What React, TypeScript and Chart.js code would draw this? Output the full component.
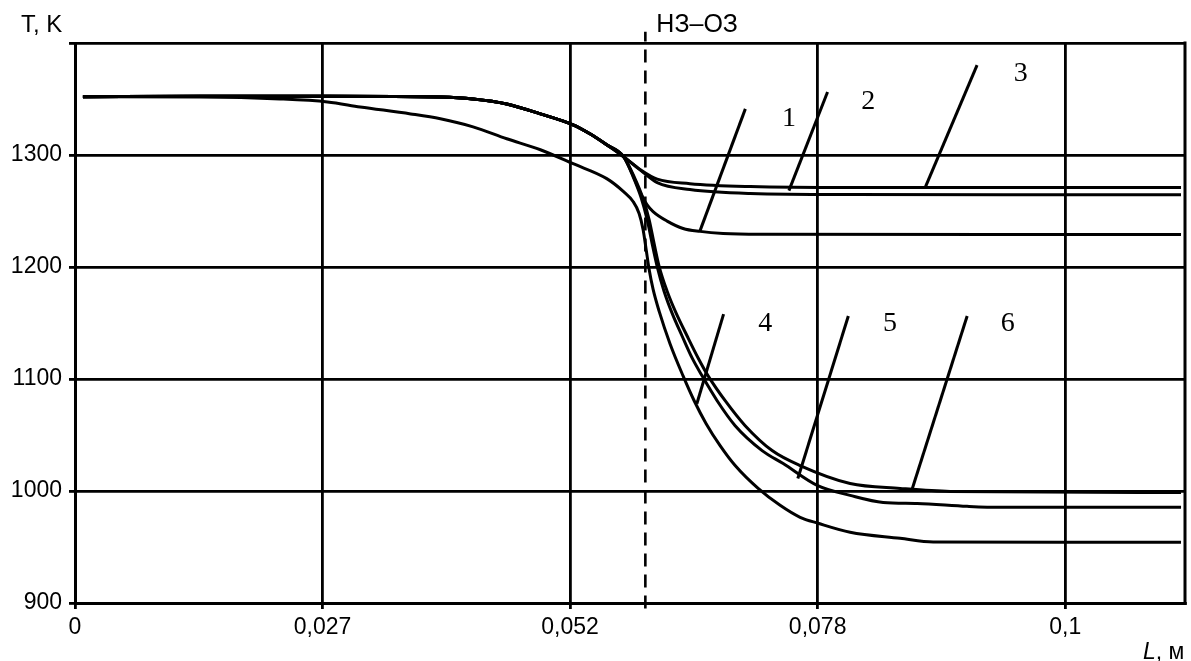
import React, { useEffect, useRef } from "react";
import { Chart, registerables } from "chart.js";

Chart.register(...registerables);

// ---------- axes ----------
const xTickValues = [0, 0.025, 0.05, 0.075, 0.1];
const xTickLabels = ["0", "0,027", "0,052", "0,078", "0,1"];
const yTickValues = [900, 1000, 1100, 1200, 1300, 1400];
const yTickLabels = ["900", "1000", "1100", "1200", "1300", ""];
const X_MIN = 0;
const X_MAX = 0.1121;
const Y_MIN = 900;
const Y_MAX = 1400;

// ---------- boundary НЗ–ОЗ ----------
const boundaryX = [0.0576, 0.0576];
const boundaryY = [895, 1410];

// ---------- common starting parts ----------
const upperStartX = [0.0008, 0.0126, 0.0258, 0.0369, 0.0402, 0.0436, 0.047, 0.0503, 0.052, 0.0537, 0.0554];
const upperStartY = [1352, 1352.5, 1352.5, 1351.8, 1350.1, 1345.6, 1336.7, 1326.9, 1318.9, 1309.1, 1298.5];
const lowerStartX = [0.0008, 0.0126, 0.0207, 0.0255, 0.0288, 0.0339, 0.0369, 0.0402, 0.0436, 0.047, 0.0503, 0.0537, 0.0554, 0.05636];
const lowerStartY = [1352, 1351.8, 1350.1, 1347.4, 1342.9, 1336.7, 1332.3, 1325.1, 1314.5, 1304.7, 1292.2, 1278.9, 1267.3, 1258.5];

// ---------- curve tails ----------
const curve1X = [0.05636, 0.05717, 0.05778, 0.05838, 0.0598, 0.06141, 0.06313, 0.06545, 0.0692, 0.1117];
const curve1Y = [1281.6, 1264.7, 1255.5, 1249.5, 1241.0, 1234.4, 1231.8, 1230, 1229.3, 1229];
const curve2X = [0.0571, 0.0588, 0.0621, 0.0682, 0.0783, 0.1117];
const curve2Y = [1286.5, 1275.3, 1269.1, 1265.6, 1264.7, 1264.5];
const curve3X = [0.0571, 0.0588, 0.0621, 0.0682, 0.0783, 0.1117];
const curve3Y = [1286.9, 1278.4, 1274.4, 1271.8, 1270.9, 1271];
const curve4X = [0.05697, 0.05737, 0.05768, 0.05798, 0.05838, 0.05899, 0.0601, 0.06141, 0.06253, 0.06374, 0.06515, 0.06667, 0.06899, 0.07121, 0.07323, 0.07505, 0.07828, 0.08333, 0.08667, 0.1117];
const curve4Y = [1247.8, 1233.5, 1215.7, 1198.0, 1180.2, 1160.6, 1131.3, 1102.8, 1080.6, 1060.1, 1040.5, 1022.7, 1002.3, 987.2, 976.5, 971.2, 963.2, 957.8, 954.5, 954.3];
const curve5X = [0.05636, 0.05717, 0.05778, 0.05828, 0.05879, 0.05949, 0.0603, 0.06131, 0.06232, 0.06333, 0.06485, 0.06667, 0.06939, 0.07152, 0.07495, 0.07828, 0.08162, 0.08505, 0.0901, 0.09343, 0.1117];
const curve5Y = [1280.7, 1262.0, 1242.4, 1221.1, 1200.6, 1178.4, 1158.8, 1138.4, 1118.8, 1102.8, 1080.6, 1058.3, 1036.1, 1024.5, 1005, 996.1, 989.8, 988.9, 986.3, 985.4, 985.4];
const curve6X = [0.05646, 0.05737, 0.05798, 0.05848, 0.05899, 0.0598, 0.06071, 0.06182, 0.06293, 0.06394, 0.06566, 0.06768, 0.0704, 0.07323, 0.07828, 0.08333, 0.08838, 0.1117];
const curve6Y = [1280.7, 1261.1, 1242.4, 1221.1, 1200.6, 1178.4, 1158.8, 1138.4, 1118.8, 1102.8, 1080.6, 1058.3, 1036.1, 1022.7, 1006.7, 1002.3, 999.6, 998.7];

// ---------- curve number labels and leader lines ----------
const curveLabelText = ["1", "2", "3", "4", "5", "6"];
const curveLabelX = [0.0721, 0.0801, 0.0955, 0.0697, 0.0823, 0.0942];
const curveLabelY = [1332.3, 1347.4, 1372.3, 1149, 1149, 1149];
const leaderStartX = [0.0677, 0.076, 0.0911, 0.0655, 0.0781, 0.0901];
const leaderStartY = [1341.2, 1356.3, 1380.3, 1157.9, 1156.2, 1156.2];
const leaderEndX = [0.0631, 0.0721, 0.0859, 0.0628, 0.073, 0.0845];
const leaderEndY = [1231.8, 1268.2, 1271.8, 1077.9, 1011.2, 1000.5];

const SANS = "'Liberation Sans', Arial, sans-serif";
const SERIF = "'Liberation Serif', 'Times New Roman', serif";

function pts(xs: number[], ys: number[]) {
  return xs.map((x, i) => ({ x, y: ys[i] }));
}

export default function App() {
  const ref = useRef<HTMLCanvasElement | null>(null);

  useEffect(() => {
    if (!ref.current) return;

    const curves = [
      pts(upperStartX.concat(curve1X), upperStartY.concat(curve1Y)),
      pts(upperStartX.concat(curve2X), upperStartY.concat(curve2Y)),
      pts(upperStartX.concat(curve3X), upperStartY.concat(curve3Y)),
      pts(lowerStartX.concat(curve4X), lowerStartY.concat(curve4Y)),
      pts(upperStartX.concat(curve5X), upperStartY.concat(curve5Y)),
      pts(upperStartX.concat(curve6X), upperStartY.concat(curve6Y)),
    ];

    const datasets: any[] = curves.map((d, i) => ({
      label: "curve " + curveLabelText[i],
      data: d,
      borderColor: "#000",
      borderWidth: 3,
      pointRadius: 0,
      fill: false,
      cubicInterpolationMode: "monotone",
    }));

    leaderStartX.forEach((_, i) => {
      datasets.push({
        label: "leader " + curveLabelText[i],
        data: [
          { x: leaderStartX[i], y: leaderStartY[i] },
          { x: leaderEndX[i], y: leaderEndY[i] },
        ],
        borderColor: "#000",
        borderWidth: 3,
        pointRadius: 0,
        fill: false,
        tension: 0,
      });
    });

    datasets.push({
      label: "boundary",
      data: pts(boundaryX, boundaryY),
      borderColor: "#000",
      borderWidth: 2.6,
      borderDash: [13, 8],
      pointRadius: 0,
      fill: false,
      tension: 0,
      clip: false,
    });

    const textPlugin = {
      id: "texts",
      afterDraw(chart: any) {
        const { ctx, chartArea, scales } = chart;
        const xs = scales.x;
        const ys = scales.y;
        ctx.save();
        // right border of the plot
        ctx.strokeStyle = "#000";
        ctx.lineWidth = 3;
        ctx.beginPath();
        ctx.moveTo(chartArea.right, chartArea.top - 1.5);
        ctx.lineTo(chartArea.right, chartArea.bottom + 1.5);
        ctx.stroke();

        ctx.fillStyle = "#000";
        ctx.textBaseline = "alphabetic";
        ctx.textAlign = "left";
        ctx.font = `24px ${SANS}`;
        ctx.fillText("T, K", 21, 32);

        const bx = xs.getPixelForValue(boundaryX[0]);
        ctx.font = `25px ${SANS}`;
        ctx.fillText("НЗ–ОЗ", bx + 11, 32);

        // L, м
        ctx.font = `italic 23px ${SANS}`;
        ctx.fillText("L", 1143, 659);
        const lw = ctx.measureText("L").width;
        ctx.font = `23px ${SANS}`;
        ctx.fillText(", м", 1143 + lw, 659);

        // curve numbers
        ctx.font = `28px ${SERIF}`;
        ctx.textAlign = "center";
        ctx.textBaseline = "middle";
        curveLabelText.forEach((t, i) => {
          ctx.fillText(t, xs.getPixelForValue(curveLabelX[i]), ys.getPixelForValue(curveLabelY[i]));
        });
        ctx.restore();
      },
    };

    const chart = new Chart(ref.current, {
      type: "line",
      data: { datasets },
      plugins: [textPlugin],
      options: {
        animation: false,
        responsive: false,
        devicePixelRatio: 1,
        layout: { padding: { top: 43, right: 6, left: 0, bottom: 0 } },
        plugins: {
          legend: { display: false },
          tooltip: { enabled: false },
          title: { display: false },
        },
        elements: { line: { borderCapStyle: "butt" } },
        scales: {
          x: {
            type: "linear",
            min: X_MIN,
            max: X_MAX,
            afterBuildTicks: (scale: any) => {
              scale.ticks = xTickValues.map((v) => ({ value: v }));
            },
            afterFit: (scale: any) => {
              scale.height = 58;
            },
            ticks: {
              autoSkip: false,
              maxRotation: 0,
              padding: 5,
              color: "#000",
              font: { family: SANS, size: 23 },
              callback: (_v: any, i: number) => xTickLabels[i],
            },
            grid: {
              color: "#000",
              lineWidth: 2.8,
              tickLength: 6,
              tickColor: "#000",
              tickWidth: 2.8,
            },
            border: { display: true, color: "#000", width: 3 },
          },
          y: {
            type: "linear",
            min: Y_MIN,
            max: Y_MAX,
            afterBuildTicks: (scale: any) => {
              scale.ticks = yTickValues.map((v) => ({ value: v }));
            },
            afterFit: (scale: any) => {
              scale.width = 75;
            },
            ticks: {
              autoSkip: false,
              padding: 7,
              color: "#000",
              font: { family: SANS, size: 23 },
              callback: (_v: any, i: number) => yTickLabels[i],
            },
            grid: {
              color: "#000",
              lineWidth: 2.8,
              tickLength: 6,
              tickColor: "#000",
              tickWidth: 2.8,
            },
            border: { display: true, color: "#000", width: 3 },
          },
        },
      } as any,
    });

    return () => chart.destroy();
  }, []);

  return (
    <div style={{ position: "fixed", left: 0, top: 0, width: 1191, height: 661, background: "#fff" }}>
      <canvas ref={ref} width={1191} height={661} style={{ display: "block", width: 1191, height: 661 }} />
    </div>
  );
}
